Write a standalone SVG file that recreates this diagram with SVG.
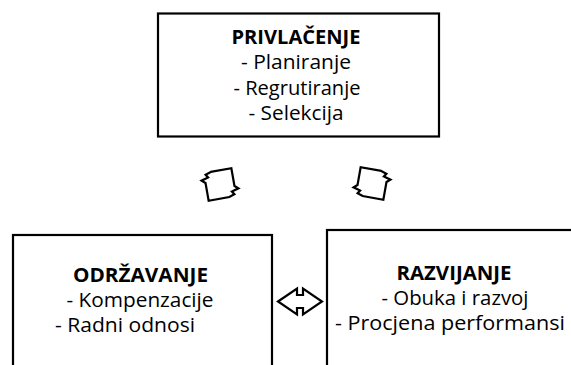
<svg xmlns="http://www.w3.org/2000/svg" width="571" height="365" viewBox="0 0 571 365">
<style>
.box{fill:#fff;stroke:#000;stroke-width:2.2}
.t{font-family:"Open Sans","Liberation Sans",sans-serif;font-size:20px;fill:#000;text-anchor:middle}
.b{font-weight:bold}
.ic{fill:#fff;stroke:#000;stroke-width:2.2;stroke-linejoin:miter}
</style>
<defs>
<path id="cyc" d="M -7,-14 L 14,-14 L 14,4 L 17.5,7 L 10.5,9 L 12.5,12 L 7,14 L -14,14 L -14,-4 L -17.5,-7 L -10.5,-9 L -12.5,-12 Z"/>
</defs>
<rect width="571" height="365" fill="#fff"/>
<g id="connectors">
<use href="#cyc" class="ic" transform="translate(220,184.5) rotate(-10)"/>
<use href="#cyc" class="ic" transform="translate(372,183.5) scale(-1,1) rotate(-10)"/>
<polygon class="ic" points="278,301.5 297,288.5 297,295 303,295 303,288.5 322,301.5 303,314.5 303,308 297,308 297,314.5"/>
</g>
<g id="privlacenje">
<rect class="box" x="158" y="13.5" width="281" height="123"/>
<text class="t b" x="296" y="44" textLength="129" lengthAdjust="spacingAndGlyphs">PRIVLAČENJE</text>
<text class="t" x="296" y="69" textLength="110" lengthAdjust="spacingAndGlyphs">- Planiranje</text>
<text class="t" x="297" y="95" textLength="127" lengthAdjust="spacingAndGlyphs">- Regrutiranje</text>
<text class="t" x="296" y="120" textLength="95" lengthAdjust="spacingAndGlyphs">- Selekcija</text>
</g>
<g id="odrzavanje">
<rect class="box" x="13" y="235" width="259" height="145"/>
<text class="t b" x="140.5" y="282" textLength="135" lengthAdjust="spacingAndGlyphs">ODRŽAVANJE</text>
<text class="t" x="140" y="307" textLength="147" lengthAdjust="spacingAndGlyphs">- Kompenzacije</text>
<text class="t" x="125" y="332" textLength="140" lengthAdjust="spacingAndGlyphs">- Radni odnosi</text>
</g>
<g id="razvijanje">
<rect class="box" x="327" y="230" width="260" height="150"/>
<text class="t b" x="454" y="280" textLength="115" lengthAdjust="spacingAndGlyphs">RAZVIJANJE</text>
<text class="t" x="455" y="305" textLength="147" lengthAdjust="spacingAndGlyphs">- Obuka i razvoj</text>
<text class="t" x="450" y="330" textLength="230" lengthAdjust="spacingAndGlyphs">- Procjena performansi</text>
</g>
</svg>
